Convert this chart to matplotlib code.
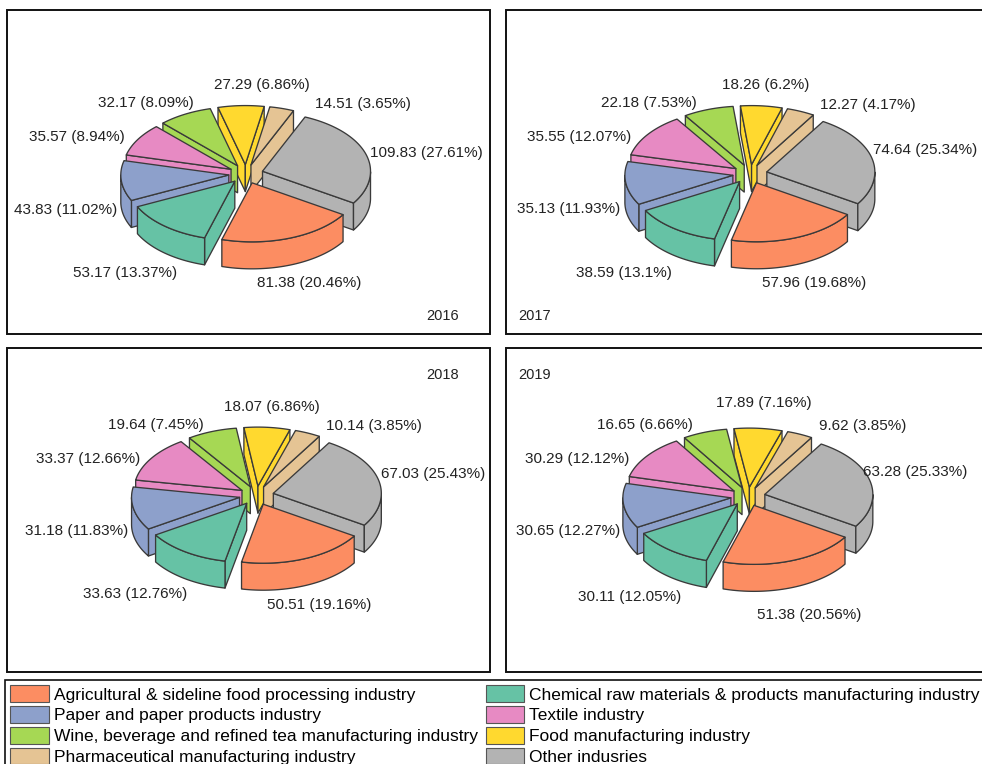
import numpy as np
import matplotlib
matplotlib.use("Agg")
import matplotlib.pyplot as plt
from matplotlib.patches import Polygon, Rectangle, Patch

plt.rcParams["font.family"] = ["Liberation Sans", "DejaVu Sans"]

industries = ["Agricultural & sideline food processing industry",
              "Chemical raw materials & products manufacturing industry",
              "Paper and paper products industry",
              "Textile industry",
              "Wine, beverage and refined tea manufacturing industry",
              "Food manufacturing industry",
              "Pharmaceutical manufacturing industry",
              "Other indusries"]
colors = ["#FC8D62", "#66C2A5", "#8DA0CB", "#E78AC3", "#A6D854", "#FFD92F", "#E5C494", "#B3B3B3"]

# slice order: same as industries, clockwise
values_2016 = [81.38, 53.17, 43.83, 35.57, 32.17, 27.29, 14.51, 109.83]
values_2017 = [57.96, 38.59, 35.13, 35.55, 22.18, 18.26, 12.27, 74.64]
values_2018 = [50.51, 33.63, 31.18, 33.37, 19.64, 18.07, 10.14, 67.03]
values_2019 = [51.38, 30.11, 30.65, 30.29, 16.65, 17.89, 9.62, 63.28]
pct_2016 = [20.46, 13.37, 11.02, 8.94, 8.09, 6.86, 3.65, 27.61]
pct_2017 = [19.68, 13.1, 11.93, 12.07, 7.53, 6.2, 4.17, 25.34]
pct_2018 = [19.16, 12.76, 11.83, 12.66, 7.45, 6.86, 3.85, 25.43]
pct_2019 = [20.56, 12.05, 12.27, 12.12, 6.66, 7.16, 3.85, 25.33]

# label centres in pixels
pos_2016 = [(309, 283), (125, 273), (66, 210), (77, 137), (146, 103), (262, 85), (363, 104), (426, 153)]
pos_2017 = [(814, 283), (624, 273), (569, 209), (579, 137), (649, 103), (766, 85), (868, 105), (925, 150)]
pos_2018 = [(319, 605), (135, 594), (77, 531), (88, 459), (156, 425), (272, 407), (374, 426), (433, 474)]
pos_2019 = [(809, 615), (630, 597), (568, 531), (577, 459), (645, 425), (764, 403), (863, 426), (915, 472)]

W, H = 982, 764
RX, RY, DEPTH, EXPLODE = 108, 59, 27, 0.16
START = -32.6


def draw_pie(ax, cx, cy, values):
    vals = np.array(values)
    spans = vals / vals.sum() * 360
    ends = START - np.cumsum(spans)
    starts = ends + spans
    mids = (starts + ends) / 2
    # back slices first
    for i in np.argsort(-np.sin(np.radians(mids))):
        m = np.radians(mids[i])
        ax_x = cx + EXPLODE * RX * np.cos(m)
        ax_y = cy - EXPLODE * RY * np.sin(m)
        th = np.radians(np.linspace(starts[i], ends[i], 150))
        rx = ax_x + RX * np.cos(th)
        ry = ax_y - RY * np.sin(th)
        style = dict(facecolor=colors[i], edgecolor="#3a3a3a", linewidth=0.95, joinstyle="round")
        # cut faces that look at the viewer
        for ang, sgn, k in [(starts[i], 1, 0), (ends[i], -1, -1)]:
            if np.sin(np.radians(ang + sgn * 90)) < 0:
                ax.add_patch(Polygon([(ax_x, ax_y), (rx[k], ry[k]), (rx[k], ry[k] + DEPTH), (ax_x, ax_y + DEPTH)], **style))
        # rim
        front = np.sin(th) <= 0
        if front.any():
            top = np.column_stack([rx[front], ry[front]])
            bot = np.column_stack([rx[front], ry[front] + DEPTH])[::-1]
            ax.add_patch(Polygon(np.vstack([top, bot]), **style))
        ax.add_patch(Polygon(np.vstack([[(ax_x, ax_y)], np.column_stack([rx, ry])]), **style))


fig = plt.figure(figsize=(W / 100, H / 100), dpi=100)
ax = fig.add_axes([0, 0, 1, 1])
ax.set_xlim(0, W)
ax.set_ylim(H, 0)
ax.axis("off")

panels = [(7, 10, 246, 174, values_2016, pct_2016, pos_2016, "2016", 443, 316),
          (506, 10, 750, 174, values_2017, pct_2017, pos_2017, "2017", 535, 316),
          (7, 348, 256.5, 495.5, values_2018, pct_2018, pos_2018, "2018", 443, 375),
          (506, 348, 748, 496.5, values_2019, pct_2019, pos_2019, "2019", 535, 375)]

for px, py, cx, cy, vals, pcts, poss, year, yx, yy in panels:
    ax.add_patch(Rectangle((px, py), 483, 324, facecolor="white", edgecolor="#111111", linewidth=1.4))
    draw_pie(ax, cx, cy, vals)
    for v, p, (tx, ty) in zip(vals, pcts, poss):
        ax.text(tx, ty, f"{v:g} ({p:g}%)", ha="center", va="center", fontsize=11, color="#222222")
    ax.text(yx, yy, year, ha="center", va="center", fontsize=10.5, color="#222222")

handles = [Patch(facecolor=c, edgecolor="#555555", linewidth=0.8, label=n) for c, n in zip(colors, industries)]
handles = handles[0::2] + handles[1::2]
leg = ax.legend(handles=handles, ncols=2, loc="upper left", bbox_to_anchor=(5 / W, 1 - 680 / H),
                fontsize=12.55, frameon=True, fancybox=False, framealpha=1, edgecolor="#111111",
                borderpad=0.3, labelspacing=0.2, handlelength=2.2, handleheight=1.1,
                handletextpad=0.3, columnspacing=0.45, borderaxespad=0)
leg.get_frame().set_linewidth(1.2)

fig.savefig("out.png", dpi=100)
